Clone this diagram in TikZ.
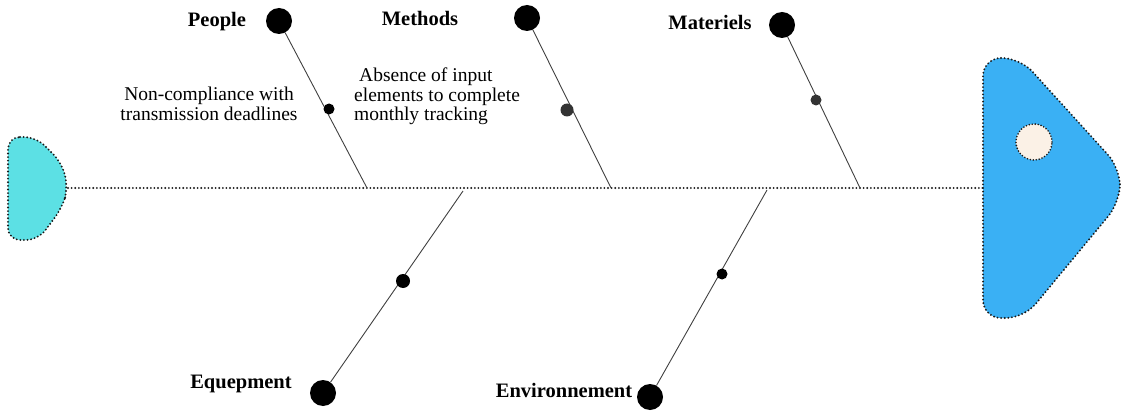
\documentclass[tikz,border=0pt]{standalone}
\usepackage{fontspec}
\setmainfont{Liberation Serif}
\begin{document}
\begin{tikzpicture}[x=1pt,y=-1pt,
  dotline/.style={line width=2.1pt, line cap=round, dash pattern=on 0pt off 3.6pt, draw=black!90},
  bone/.style={draw=black!75, line width=0.9pt},
  bigdot/.style={circle, fill=black, inner sep=0pt, minimum size=26pt},
  smalldot/.style={circle, fill=#1, inner sep=0pt, minimum size=11pt},
  smalldot/.default=black,
  cat/.style={font=\fontsize{20.5}{22}\selectfont\bfseries, inner sep=0pt},
  note/.style={font=\fontsize{19.5}{19.5}\selectfont, inner sep=0pt}
]
\definecolor{tailcyan}{HTML}{5CE0E4}
\definecolor{headblue}{HTML}{3AB0F4}
\definecolor{eyecream}{HTML}{FBF1E6}
\useasboundingbox (0,0) rectangle (1121,414);

% tail of the fish
\path[fill=tailcyan, dotline, rounded corners=12pt]
  (8,137) -- (36,137) -- (62,163) -- (68,188) -- (62,208) -- (38,240) -- (8,240) -- cycle;
\coordinate (tail) at (68,188);

% head of the fish
\path[fill=headblue, dotline, rounded corners=18pt]
  (983,58) -- (1020,58) -- (1120,168) -- (1120,202) -- (1024,318) -- (983,318) -- cycle;
\coordinate (head) at (983,188);
\node[circle, fill=eyecream, dotline, line width=1.8pt, dash pattern=on 0pt off 3pt, minimum size=36pt, inner sep=0pt] (eye) at (1034,142) {};

% spine
\draw[dotline] (tail) -- (head);

% upper bones
\coordinate (s1) at (367,188);
\coordinate (s2) at (611,188);
\coordinate (s3) at (860,188);
\node[bigdot] (b1) at (279,21) {};
\node[bigdot] (b2) at (527,18) {};
\node[bigdot] (b3) at (782,25) {};
\draw[bone] (b1) -- (s1);
\draw[bone] (b2) -- (s2);
\draw[bone] (b3) -- (s3);
\node[smalldot] (d1) at (329,109) {};
\node[smalldot=black!80, minimum size=13pt] (d2) at (567,110) {};
\node[smalldot=black!80] (d3) at (816,100) {};

% lower bones
\coordinate (s4) at (463,191);
\coordinate (s5) at (767,190);
\node[bigdot] (b4) at (323,393) {};
\node[bigdot] (b5) at (650,397) {};
\draw[bone] (s4) -- (b4);
\draw[bone] (s5) -- (b5);
\node[smalldot, minimum size=14pt] (d4) at (403,281) {};
\node[smalldot] (d5) at (722,274) {};

% category labels
\node[cat] (lp) at (217,22) {People};
\node[cat] (lm) at (420,18) {Methods};
\node[cat] (lt) at (710,22) {Materiels};
\node[cat] (le) at (241,384) {Equepment};
\node[cat] (lv) at (564,390) {Environnement};

% cause notes
\node[note, align=center] (n1) at (209,104) {Non-compliance with\\transmission deadlines};
\node[note, align=left, anchor=north west] (n2) at (354,68) {\hspace{5pt}Absence of input\\elements to complete\\monthly tracking};
\end{tikzpicture}
\end{document}
